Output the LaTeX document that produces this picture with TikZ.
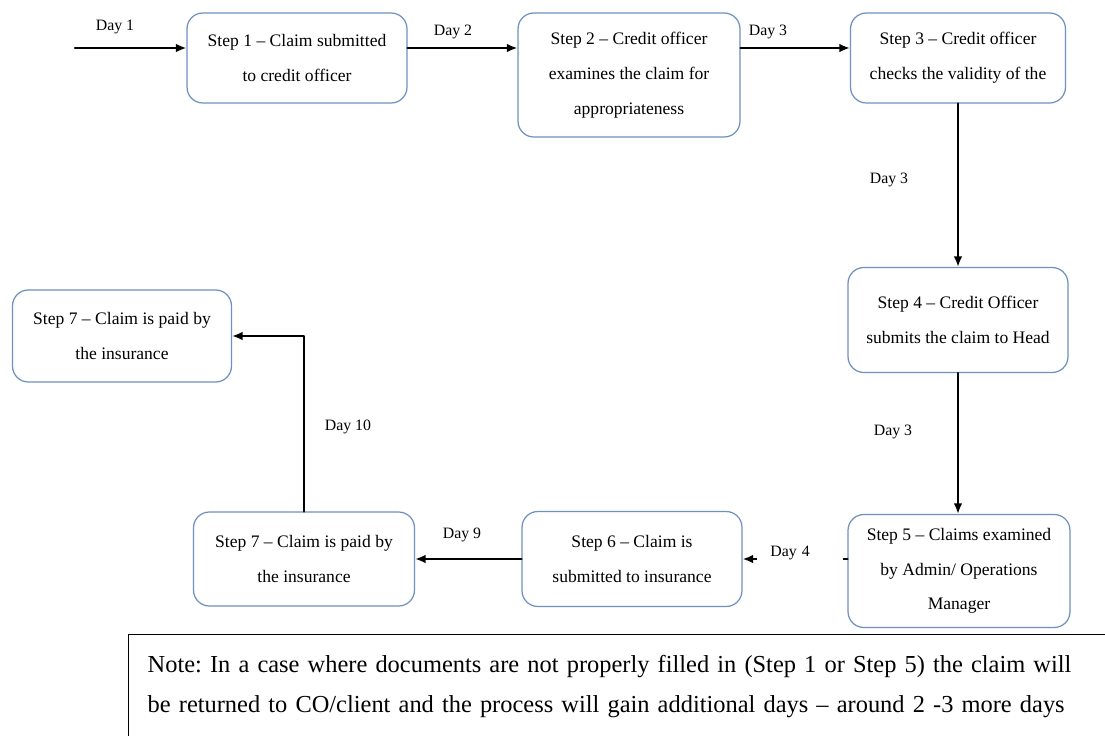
\documentclass[tikz,border=0pt]{standalone}
\usepackage{fontspec}
\setmainfont{Liberation Serif}
\usetikzlibrary{arrows.meta, positioning}

\definecolor{boxblue}{RGB}{110,145,190}

\tikzset{
    stepbox/.style={draw=boxblue, line width=0.7pt, rounded corners=9pt, fill=white,
        align=center, inner sep=2pt, font=\fontsize{10}{19.8}\selectfont},
    daylabel/.style={fill=white, inner sep=1pt, font=\fontsize{9}{11}\selectfont},
    flow/.style={-{Latex[length=6pt, width=5pt]}, line width=1.4pt},
    notebox/.style={draw=black, line width=0.8pt, align=left, inner xsep=0.38cm,
        font=\fontsize{13.9}{22.7}\selectfont\frenchspacing},
}

\begin{document}
\begin{tikzpicture}[x=0.02cm, y=-0.02cm, line cap=round, line join=round]

    \useasboundingbox (0,0) rectangle (1105,736);
    \clip (0,0) rectangle (1105,736);

    % Step boxes
    \node[stepbox, minimum width=4.4cm, minimum height=1.8cm] (s1) at (297,58) {Step 1 – Claim submitted\\to credit officer};
    \node[stepbox, minimum width=4.44cm, minimum height=2.48cm] (s2) at (629,75) {Step 2 – Credit officer\\examines the claim for\\appropriateness};
    \node[stepbox, minimum width=4.3cm, minimum height=1.8cm] (s3) at (958,58) {Step 3 – Credit officer\\checks the validity of the};
    \node[stepbox, minimum width=4.4cm, minimum height=2.1cm] (s4) at (958,320) {Step 4 – Credit Officer\\submits the claim to Head};
    \node[stepbox, minimum width=4.44cm, minimum height=2.26cm] (s5) at (959,571) {Step 5 – Claims examined\\by Admin/ Operations\\Manager};
    \node[stepbox, minimum width=4.4cm, minimum height=1.9cm] (s6) at (632,559) {Step 6 – Claim is\\submitted to insurance};
    \node[stepbox, minimum width=4.42cm, minimum height=1.88cm] (s7b) at (304,559) {Step 7 – Claim is paid by\\the insurance};
    \node[stepbox, minimum width=4.38cm, minimum height=1.84cm] (s7a) at (122,336) {Step 7 – Claim is paid by\\the insurance};

    % Connectors
    \coordinate (start) at (75,48);
    \draw[flow] (start) -- (start -| s1.west);
    \draw[flow] (s1.east |- start) -- (s2.west |- start);
    \draw[flow] (s2.east |- start) -- (s3.west |- start);
    \draw[flow] (s3.south) -- (s4.north);
    \draw[flow] (s4.south) -- (s4.south |- s5.north);
    \draw[flow] (s5.west |- s6.east) -- (s6.east);
    \draw[flow] (s6.west) -- (s7b.east);
    \draw[flow] (s7b.north) |- (s7a.east);

    % Day labels
    \node[daylabel] (d1) at (115,27) {Day 1};
    \node[daylabel] (d2) at (453,32) {Day 2};
    \node[daylabel] (d3a) at (768,32) {Day 3};
    \node[daylabel] (d3b) at (889,180) {Day 3};
    \node[daylabel] (d3c) at (893,432) {Day 3};
    \node[daylabel, anchor=west, minimum height=0.6cm, text width=1.2cm, inner xsep=0.26cm, align=left] (d4) at (757,553) {Day 4};
    \node[daylabel] (d9) at (462,535) {Day 9};
    \node[daylabel] (d10) at (348,427) {Day 10};

    % Note
    \node[notebox, anchor=north west, text width=19.24cm, minimum height=2.08cm] (note) at (128,634)
        {Note: In a case where documents are not properly filled in (Step 1 or Step 5) the claim will\\be returned to CO/client and the process will gain additional days – around 2 -3 more days};

\end{tikzpicture}
\end{document}
